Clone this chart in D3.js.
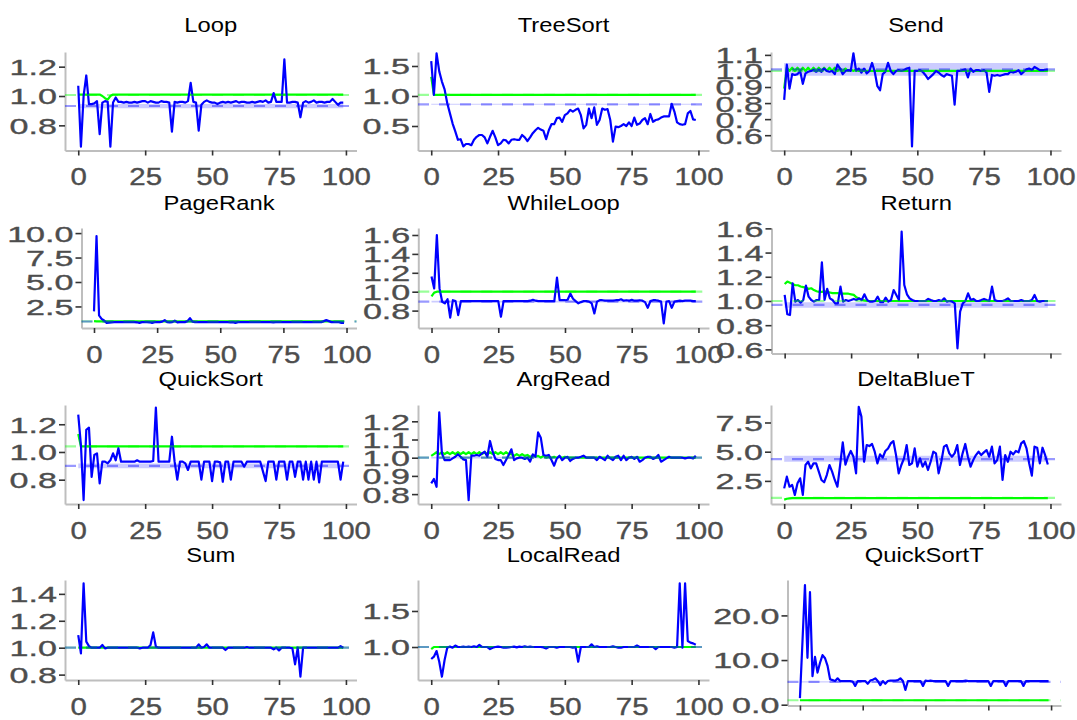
<!DOCTYPE html>
<html><head><meta charset="utf-8">
<script src="https://cdn.jsdelivr.net/npm/d3@7"></script>
<style>html,body{margin:0;padding:0;background:#fff}svg{display:block}</style>
</head><body><svg id="chart" width="1077" height="720"></svg>
<script>
const panelNames = ["Loop","TreeSort","Send","PageRank","WhileLoop","Return","QuickSort","ArgRead","DeltaBlueT","Sum","LocalRead","QuickSortT"];
const xTickValues = [0,25,50,75,100];
const xTickLabels = ["0","25","50","75","100"];
const yTickValues = [[1.2,1.0,0.8],[1.5,1.0,0.5],[1.1,1.0,0.9,0.8,0.7,0.6],[10,7.5,5,2.5],[1.6,1.4,1.2,1.0,0.8],[1.6,1.4,1.2,1.0,0.8,0.6],[1.2,1.0,0.8],[1.2,1.1,1.0,0.9,0.8],[7.5,5,2.5],[1.4,1.2,1.0,0.8],[1.5,1.0],[20,10,0]];
const yTickLabels = [["1.2","1.0","0.8"],["1.5","1.0","0.5"],["1.1","1.0","0.9","0.8","0.7","0.6"],["10.0","7.5","5.0","2.5"],["1.6","1.4","1.2","1.0","0.8"],["1.6","1.4","1.2","1.0","0.8","0.6"],["1.2","1.0","0.8"],["1.2","1.1","1.0","0.9","0.8"],["7.5","5.0","2.5"],["1.4","1.2","1.0","0.8"],["1.5","1.0"],["20.0","10.0","0.0"]];
const yDomains = [[0.6285,1.300],[0.0917,1.733],[0.5047,1.118],[0.297,10.52],[0.616,1.674],[0.566,1.603],[0.6245,1.339],[0.7456,1.2896],[0.522,8.998],[0.76,1.503],[0.542,1.93],[-0.18,27.93]];

const testMeans = [0.932,0.861,1.01,0.96,0.894,0.967,0.90,1.0,4.37,1.0,1.0,5.1];
const testLow   = [0.916,0.852,0.97,0.94,0.885,0.945,0.882,0.995,4.14,0.995,0.995,4.95];
const testHigh  = [0.946,0.870,1.05,0.98,0.905,0.99,0.916,1.005,4.66,1.005,1.005,5.25];
const baseMeans = [1.007,1.02,1.0,0.97,1.0,1.0,1.04,1.0,1.05,1.0,1.0,1.0];

const loopTest = [
1.07,0.655,1.00,1.14,0.945,0.945,0.95,0.965,0.74,0.955,
0.965,0.96,0.655,0.955,0.99,0.96,0.96,0.955,0.96,0.955,
0.955,0.96,0.955,0.96,0.965,0.965,0.955,0.965,0.96,0.955,
0.955,0.965,0.96,0.96,0.955,0.757,0.96,0.955,0.96,0.96,
0.955,0.965,1.09,0.96,0.955,0.764,0.94,0.96,0.97,0.96,
0.955,0.955,0.945,0.955,0.96,0.955,0.96,0.955,0.96,0.965,
0.955,0.96,0.96,0.955,0.955,0.96,0.955,0.96,0.965,0.96,
0.97,0.955,0.96,1.02,0.96,0.96,0.96,1.25,0.955,0.955,
0.96,0.96,0.955,0.855,0.955,0.965,0.955,0.96,0.97,0.955,
0.96,0.96,0.955,0.96,0.96,0.98,0.96,0.94,0.955,0.955];
const loopBase = [
1.01,1.01,1.01,1.01,1.01,1.01,1.01,1.01,1.01,1.00,
0.985,0.975,1.00,1.01,1.01,1.01,1.01,1.01,1.01,1.01,
1.01,1.01,1.01,1.01,1.01,1.01,1.01,1.01,1.01,1.01,
1.01,1.01,1.01,1.01,1.01,1.01,1.01,1.01,1.01,1.01,
1.01,1.01,1.01,1.01,1.01,1.01,1.01,1.01,1.01,1.01,
1.01,1.01,1.01,1.01,1.01,1.01,1.01,1.01,1.01,1.01,
1.01,1.01,1.01,1.01,1.01,1.01,1.01,1.01,1.01,1.01,
1.01,1.01,1.01,1.01,1.01,1.01,1.01,1.01,1.01,1.01,
1.01,1.01,1.01,1.01,1.01,1.01,1.01,1.01,1.01,1.01,
1.01,1.01,1.01,1.01,1.01,1.01,1.01,1.01,1.01,1.01];

const treeSortTest = [
1.58,1.02,1.71,1.41,1.24,1.11,0.88,0.71,0.54,0.41,
0.27,0.28,0.16,0.20,0.20,0.18,0.27,0.32,0.35,0.35,
0.31,0.21,0.32,0.42,0.31,0.18,0.21,0.27,0.26,0.21,
0.27,0.28,0.27,0.27,0.35,0.31,0.25,0.31,0.38,0.43,
0.47,0.44,0.42,0.28,0.43,0.53,0.53,0.63,0.64,0.57,
0.68,0.71,0.77,0.74,0.77,0.79,0.68,0.46,0.52,0.79,
0.63,0.81,0.52,0.60,0.79,0.77,0.78,0.60,0.24,0.49,
0.48,0.50,0.53,0.50,0.56,0.50,0.64,0.52,0.54,0.60,
0.63,0.53,0.70,0.57,0.60,0.61,0.64,0.66,0.66,0.66,
0.87,0.74,0.56,0.53,0.52,0.53,0.71,0.75,0.61,0.60];
const treeSortBase = [
1.32,1.02,1.02,1.02,1.02,1.02,1.02,1.02,1.02,1.02,
1.02,1.02,1.02,1.02,1.02,1.02,1.02,1.02,1.02,1.02,
1.02,1.02,1.02,1.02,1.02,1.02,1.02,1.02,1.02,1.02,
1.02,1.02,1.02,1.02,1.02,1.02,1.02,1.02,1.02,1.02,
1.02,1.02,1.02,1.02,1.02,1.02,1.02,1.02,1.02,1.02,
1.02,1.02,1.02,1.02,1.02,1.02,1.02,1.02,1.02,1.02,
1.02,1.02,1.02,1.02,1.02,1.02,1.02,1.02,1.02,1.02,
1.02,1.02,1.02,1.02,1.02,1.02,1.02,1.02,1.02,1.02,
1.02,1.02,1.02,1.02,1.02,1.02,1.02,1.02,1.02,1.02,
1.02,1.02,1.02,1.02,1.02,1.02,1.02,1.02,1.02,1.02];

const sendTest = [
0.82,1.04,0.89,0.98,0.975,0.98,1.0,0.92,0.985,0.995,
1.0,1.005,0.995,1.005,0.995,1.015,1.0,0.995,1.0,0.98,
1.04,1.015,0.98,1.0,1.005,1.0,1.11,1.0,1.015,0.99,
1.015,0.985,1.0,1.05,0.995,0.905,0.88,0.98,0.995,1.05,
1.0,0.98,1.0,1.005,1.0,1.005,1.015,1.02,0.53,1.0,
1.0,1.005,0.995,0.975,0.95,0.965,0.98,1.0,0.99,0.975,
0.965,0.98,0.975,0.97,0.79,1.0,1.0,1.005,1.01,0.96,
1.015,0.995,1.005,1.005,1.0,1.005,0.99,0.87,0.975,0.97,
0.975,0.97,0.975,0.98,0.98,0.995,0.99,0.995,1.005,0.98,
0.995,1.01,1.015,1.005,1.025,1.015,1.005,1.005,1.005,1.01];
const sendBase = [
0.89,1.02,1.0,1.02,1.0,1.02,1.0,1.02,1.0,1.02,
1.0,1.02,1.0,1.02,1.0,1.02,1.0,1.02,1.0,1.02,
1.0,1.015,1.0,1.015,1.0,1.01,1.0,1.01,1.0,1.005,
1.0,1.0,1.0,1.0,1.0,1.0,1.0,1.0,1.0,1.0,
1.0,1.0,1.0,1.0,1.0,1.0,1.0,1.0,1.0,1.0,
1.0,1.0,1.0,1.0,1.0,1.0,1.0,1.0,1.0,1.0,
1.0,1.0,1.0,1.0,1.0,1.0,1.0,1.0,1.0,1.0,
1.0,1.0,1.0,1.0,1.0,1.0,1.0,1.0,1.0,1.0,
1.0,1.0,1.0,1.0,1.0,1.0,1.0,1.0,1.0,1.0,
1.0,1.0,1.0,1.0,1.0,1.0,1.0,1.0,1.0,1.0];

const pageRankTest = [
2.0,9.7,1.58,1.23,1.06,0.82,0.85,0.88,0.9,0.9,
0.9,0.9,0.9,0.9,0.9,0.9,0.9,0.88,0.82,0.9,
0.9,0.9,0.88,0.82,0.9,0.9,0.9,0.95,1.1,0.9,
0.88,0.9,1.05,0.88,0.9,0.9,0.9,1.0,1.3,0.95,
0.9,0.9,0.9,0.9,0.9,0.9,0.9,0.9,0.9,0.9,
0.9,0.9,0.9,0.9,0.88,0.9,0.82,0.9,0.9,0.9,
0.9,0.9,0.9,0.9,0.9,0.9,0.9,0.9,0.9,0.9,
0.9,0.88,0.9,0.9,0.9,0.9,0.9,0.9,0.9,0.9,
0.9,0.9,0.9,0.9,0.9,0.9,0.9,0.9,0.9,0.9,
0.9,1.0,1.1,1.0,0.9,0.9,0.9,0.9,0.82,0.82];
const pageRankBase = [
1.0,0.97,0.97,0.97,0.97,0.97,0.97,0.97,0.97,0.97,
0.97,0.97,0.97,0.97,0.97,0.97,0.97,0.97,0.97,0.97,
0.97,0.97,0.97,0.97,0.97,0.97,0.97,0.97,0.97,0.97,
0.97,0.97,0.97,0.97,0.97,0.97,0.97,0.97,0.97,0.97,
0.97,0.97,0.97,0.97,0.97,0.97,0.97,0.97,0.97,0.97,
0.97,0.97,0.97,0.97,0.97,0.97,0.97,0.97,0.97,0.97,
0.97,0.97,0.97,0.97,0.97,0.97,0.97,0.97,0.97,0.97,
0.97,0.97,0.97,0.97,0.97,0.97,0.97,0.97,0.97,0.97,
0.97,0.97,0.97,0.97,0.97,0.97,0.97,0.97,0.97,0.97,
0.97,0.97,0.97,0.97,0.97,0.97,0.97,0.97,0.97,0.97];

const whileLoopTest = [
1.16,1.035,1.6,1.035,0.894,0.877,0.92,0.725,0.91,0.9,
0.753,0.9,0.9,0.9,0.9,0.9,0.9,0.9,0.9,0.9,
0.9,0.9,0.9,0.9,0.9,0.9,0.735,0.9,0.9,0.9,
0.9,0.9,0.9,0.9,0.9,0.9,0.9,0.905,0.915,0.905,
0.9,0.9,0.9,0.9,0.9,0.9,0.9,1.15,0.91,0.91,
0.91,0.915,0.98,0.925,0.9,0.877,0.89,0.9,0.9,0.895,
0.877,0.77,0.895,0.91,0.91,0.905,0.905,0.905,0.905,0.91,
0.91,0.92,0.905,0.91,0.905,0.915,0.905,0.905,0.91,0.905,
0.89,0.83,0.9,0.91,0.91,0.905,0.895,0.665,0.895,0.9,
0.83,0.895,0.9,0.905,0.9,0.905,0.905,0.905,0.9,0.9];
const whileLoopBase = [
0.95,0.99,1.0,1.0,1.0,1.0,1.0,1.0,1.0,1.0,
1.0,1.0,1.0,1.0,1.0,1.0,1.0,1.0,1.0,1.0,
1.0,1.0,1.0,1.0,1.0,1.0,1.0,1.0,1.0,1.0,
1.0,1.0,1.0,1.0,1.0,1.0,1.0,1.0,1.0,1.0,
1.0,1.0,1.0,1.0,1.0,1.0,1.0,1.0,1.0,1.0,
1.0,1.0,1.0,1.0,1.0,1.0,1.0,1.0,1.0,1.0,
1.0,1.0,1.0,1.0,1.0,1.0,1.0,1.0,1.0,1.0,
1.0,1.0,1.0,1.0,1.0,1.0,1.0,1.0,1.0,1.0,
1.0,1.0,1.0,1.0,1.0,1.0,1.0,1.0,1.0,1.0,
1.0,1.0,1.0,1.0,1.0,1.0,1.0,1.0,1.0,1.0];

const returnTest = [
1.05,0.89,0.884,1.146,0.995,1.008,0.986,1.008,1.127,1.036,
1.008,0.995,1.008,1.008,1.32,1.008,1.1,1.022,1.008,0.98,
0.98,1.118,0.995,1.008,1.0,1.008,1.017,1.008,1.022,1.008,
1.055,1.008,0.995,0.995,1.0,1.036,0.99,0.99,1.028,0.995,
1.008,1.09,1.05,1.008,1.573,1.132,1.055,1.022,1.008,1.0,
1.0,1.0,1.0,1.0,1.017,1.008,1.0,1.0,1.008,1.0,
1.022,0.995,1.0,0.995,0.98,0.609,0.912,0.98,1.0,1.063,
1.008,1.017,1.0,1.0,1.008,1.017,1.008,1.0,1.118,1.008,
1.0,1.0,1.0,1.008,1.022,1.0,1.0,1.0,1.0,1.008,
1.0,1.0,1.0,1.008,1.05,1.0,0.995,1.0,1.0,1.0];
const returnBase = [
1.14,1.16,1.15,1.14,1.13,1.13,1.12,1.115,1.11,1.10,
1.105,1.09,1.08,1.075,1.075,1.08,1.075,1.07,1.065,1.065,
1.065,1.06,1.06,1.06,1.06,1.055,1.05,1.03,1.02,1.01,
1.005,1.0,1.0,1.0,1.0,1.0,1.0,1.0,1.0,1.0,
1.0,1.0,1.0,1.0,1.0,1.0,1.0,1.0,1.0,1.0,
1.0,1.0,1.0,1.0,1.0,1.0,1.0,1.0,1.0,1.0,
1.0,1.0,1.0,1.0,1.0,1.0,1.0,1.0,1.0,1.0,
1.0,1.0,1.0,1.0,1.0,1.0,1.0,1.0,1.0,1.0,
1.0,1.0,1.0,1.0,1.0,1.0,1.0,1.0,1.0,1.0,
1.0,1.0,1.0,1.0,1.0,1.0,1.0,1.0,1.0,1.0];

const quickSortTest = [
1.27,1.05,0.653,1.16,1.176,0.82,0.978,0.99,0.774,0.93,
0.93,0.918,0.94,0.99,0.94,1.027,0.93,0.93,0.93,0.93,
0.93,0.93,0.94,0.93,0.93,0.93,0.93,0.93,0.935,1.32,
0.93,0.93,0.93,0.93,0.93,1.11,0.93,0.80,0.93,0.93,
0.918,0.87,0.93,0.93,0.93,0.93,0.80,0.93,0.93,0.93,
0.79,0.93,0.93,0.925,0.785,0.93,0.93,0.80,0.93,0.93,
0.93,0.93,0.894,0.93,0.93,0.93,0.93,0.93,0.93,0.86,
0.79,0.93,0.93,0.93,0.80,0.93,0.93,0.93,0.80,0.93,
0.93,0.82,0.93,0.93,0.80,0.93,0.80,0.93,0.80,0.93,
0.78,0.93,0.93,0.93,0.93,0.93,0.93,0.93,0.80,0.93];
const quickSortBase = [
1.13,1.04,1.04,1.04,1.04,1.04,1.04,1.04,1.04,1.04,
1.04,1.04,1.04,1.04,1.04,1.04,1.04,1.04,1.04,1.04,
1.04,1.04,1.04,1.04,1.04,1.04,1.04,1.04,1.04,1.04,
1.04,1.04,1.04,1.04,1.04,1.04,1.04,1.04,1.04,1.04,
1.04,1.04,1.04,1.04,1.04,1.04,1.04,1.04,1.04,1.04,
1.04,1.04,1.04,1.04,1.04,1.04,1.04,1.04,1.04,1.04,
1.04,1.04,1.04,1.04,1.04,1.04,1.04,1.04,1.04,1.04,
1.04,1.04,1.04,1.04,1.04,1.04,1.04,1.04,1.04,1.04,
1.04,1.04,1.04,1.04,1.04,1.04,1.04,1.04,1.04,1.04,
1.04,1.04,1.04,1.04,1.04,1.04,1.04,1.04,1.04,1.04];

const argReadTest = [
0.859,0.883,0.84,1.249,1.024,0.987,0.987,0.987,0.996,1.005,
1.018,1.005,0.991,0.987,0.767,1.011,1.011,1.015,1.011,1.024,
1.033,1.005,1.092,1.033,0.993,0.987,0.987,0.96,0.987,1.015,
1.046,0.987,0.996,1.0,1.0,0.993,1.0,0.978,1.018,1.005,
1.139,1.11,1.015,1.011,1.015,0.987,0.956,0.996,1.011,0.987,
1.0,1.005,0.982,0.993,1.0,1.0,1.005,1.011,1.0,1.0,
1.0,1.0,0.987,1.005,0.996,0.987,1.011,0.996,0.987,1.005,
1.011,0.987,1.011,0.987,1.0,1.005,0.993,1.005,0.978,0.987,
1.0,1.005,1.005,0.993,1.0,1.015,0.978,0.987,0.996,1.005,
1.0,1.0,1.0,1.0,1.0,0.996,1.0,1.0,0.996,1.011];
const argReadBase = [
1.01,1.02,1.03,1.02,1.03,1.02,1.03,1.02,1.03,1.02,
1.03,1.02,1.03,1.02,1.03,1.02,1.03,1.02,1.03,1.02,
1.03,1.02,1.03,1.02,1.03,1.02,1.03,1.02,1.03,1.02,
1.02,1.01,1.02,1.01,1.02,1.01,1.015,1.005,1.01,1.005,
1.01,1.0,1.01,1.0,1.005,1.0,1.005,1.0,1.005,1.0,
1.005,1.0,1.0,1.0,1.0,1.0,1.0,1.0,1.0,1.0,
1.0,1.0,1.0,1.0,1.0,1.0,1.0,1.0,1.0,1.0,
1.0,1.0,1.0,1.0,1.0,1.0,1.0,1.0,1.0,1.0,
1.0,1.0,1.0,1.0,1.0,1.0,1.0,1.0,1.0,1.0,
1.0,1.0,1.0,1.0,1.0,1.0,1.0,1.0,1.0,1.0];

const deltaBlueTTest = [
1.86,2.86,2.0,2.15,1.3,2.3,2.72,1.3,3.86,4.14,
3.57,4.0,4.0,3.29,2.58,2.38,3.0,3.86,3.29,2.58,
2.0,3.86,5.8,3.9,4.57,5.06,4.57,3.15,8.85,8.0,
4.14,5.57,5.48,5.66,5.0,4.0,4.77,4.49,5.06,5.28,
5.71,5.91,4.71,3.15,3.86,4.43,5.57,3.86,4.0,5.28,
3.72,4.43,3.72,4.14,3.43,4.14,5.0,4.86,3.15,4.14,
5.43,5.57,4.86,4.57,4.86,5.57,3.86,4.86,5.66,4.57,
3.72,4.29,4.71,5.0,4.71,4.94,5.14,4.57,5.43,4.0,
4.29,5.43,2.58,4.71,4.14,5.0,4.77,5.06,4.94,5.71,
5.91,5.28,4.0,2.95,5.43,5.34,4.0,5.34,4.7,3.9];
const deltaBlueTBase = [
0.9,0.97,1.0,1.03,1.03,1.03,1.03,1.03,1.03,1.03,
1.03,1.03,1.03,1.03,1.03,1.03,1.03,1.03,1.03,1.03,
1.03,1.03,1.03,1.03,1.03,1.03,1.03,1.03,1.03,1.03,
1.03,1.03,1.03,1.03,1.03,1.03,1.03,1.03,1.03,1.03,
1.03,1.03,1.03,1.03,1.03,1.03,1.03,1.03,1.03,1.03,
1.03,1.03,1.03,1.03,1.03,1.03,1.03,1.03,1.03,1.03,
1.03,1.03,1.03,1.03,1.03,1.03,1.03,1.03,1.03,1.03,
1.03,1.03,1.03,1.03,1.03,1.03,1.03,1.03,1.03,1.03,
1.03,1.03,1.03,1.03,1.03,1.03,1.03,1.03,1.03,1.03,
1.03,1.03,1.03,1.03,1.03,1.03,1.03,1.03,1.03,1.03];

const sumTest = [
1.094,0.958,1.478,1.045,1.012,1.0,1.0,1.0,1.0,1.02,
0.995,1.0,1.0,1.0,1.0,1.0,1.0,1.0,1.0,1.0,
1.0,1.0,1.0,0.995,1.0,1.0,1.0,1.02,1.114,1.008,
1.0,1.0,1.0,1.0,1.0,1.0,1.0,1.0,1.0,1.0,
1.0,1.0,1.0,1.0,1.0,1.025,1.0,1.005,1.025,1.0,
1.0,1.0,1.0,1.0,1.0,0.983,1.0,1.0,1.0,1.0,
1.0,1.0,1.0,1.005,1.0,1.0,1.0,1.0,1.0,1.0,
1.0,1.0,1.0,0.988,1.0,0.98,1.0,1.0,1.0,1.0,
0.995,0.876,1.0,0.784,1.0,1.0,1.0,1.0,1.0,1.0,
1.0,1.0,1.0,1.0,1.0,1.0,1.0,1.0,1.012,1.0];
const sumBase = [
1.0,1.0,1.0,1.0,1.0,1.0,1.0,1.0,1.0,1.0,
1.0,1.0,1.0,1.0,1.0,1.0,1.0,1.0,1.0,1.0,
1.0,1.0,1.0,1.0,1.0,1.0,1.0,1.0,1.0,1.0,
1.0,1.0,1.0,1.0,1.0,1.0,1.0,1.0,1.0,1.0,
1.0,1.0,1.0,1.0,1.0,1.0,1.0,1.0,1.0,1.0,
1.0,1.0,1.0,1.0,1.0,1.0,1.0,1.0,1.0,1.0,
1.0,1.0,1.0,1.0,1.0,1.0,1.0,1.0,1.0,1.0,
1.0,1.0,1.0,1.0,1.0,1.0,1.0,1.0,1.0,1.0,
1.0,1.0,1.0,1.0,1.0,1.0,1.0,1.0,1.0,1.0,
1.0,1.0,1.0,1.0,1.0,1.0,1.0,1.0,1.0,1.0];

const localReadTest = [
0.833,0.866,0.944,0.796,0.588,0.82,0.99,1.005,0.99,1.02,
1.0,1.0,1.005,1.0,1.005,1.0,1.01,1.0,1.028,1.0,
1.0,1.0,0.972,0.99,1.0,1.005,1.0,0.99,0.99,0.995,
1.0,1.005,0.995,1.005,1.0,1.01,1.0,1.005,1.0,1.0,
1.0,1.0,0.995,0.98,1.0,1.0,1.0,0.99,1.0,1.0,
1.0,1.0,1.0,0.99,1.0,0.796,1.0,1.0,1.0,1.0,
1.037,1.0,1.01,1.0,1.0,1.0,1.0,1.0,1.01,1.0,
0.99,0.99,1.0,1.0,1.0,1.0,1.0,1.02,1.0,1.0,
1.0,1.0,1.0,1.0,0.97,1.0,1.0,1.0,1.0,1.0,
1.0,0.99,1.0,1.884,0.99,1.884,1.083,1.06,1.05,1.03];
const localReadBase = [
0.97,1.0,1.0,1.0,1.0,1.0,1.0,1.0,1.0,1.0,
1.0,1.0,1.0,1.0,1.0,1.0,1.0,1.0,1.0,1.0,
1.0,1.0,1.0,1.0,1.0,1.0,1.0,1.0,1.0,1.0,
1.0,1.0,1.0,1.0,1.0,1.0,1.0,1.0,1.0,1.0,
1.0,1.0,1.0,1.0,1.0,1.0,1.0,1.0,1.0,1.0,
1.0,1.0,1.0,1.0,1.0,1.0,1.0,1.0,1.0,1.0,
1.0,1.0,1.0,1.0,1.0,1.0,1.0,1.0,1.0,1.0,
1.0,1.0,1.0,1.0,1.0,1.0,1.0,1.0,1.0,1.0,
1.0,1.0,1.0,1.0,1.0,1.0,1.0,1.0,1.0,1.0,
1.0,1.0,1.0,1.0,1.0,1.0,1.0,1.0,1.0,1.0];

const quickSortTTest = [
1.48,14.0,26.8,10.5,25.2,6.4,10.7,7.2,9.4,11.1,
10.4,8.7,5.7,5.5,5.3,5.9,5.3,5.3,5.3,5.3,
5.3,5.2,4.2,5.3,5.3,5.3,5.3,4.7,5.4,5.6,
5.9,5.3,4.4,5.3,4.7,5.3,5.4,5.4,5.4,5.5,
5.9,5.3,3.3,5.3,5.3,5.3,5.3,5.3,5.3,4.2,
5.4,5.3,5.4,5.3,5.3,5.3,5.3,5.3,5.3,4.2,
5.3,5.3,5.3,5.3,5.3,5.3,5.4,5.3,5.3,5.3,
5.3,5.3,5.3,5.3,5.3,5.3,4.2,5.3,5.3,5.3,
5.3,5.3,4.2,5.3,5.3,5.3,5.3,5.3,5.3,4.2,
5.3,5.3,5.3,5.3,5.3,5.3,5.3,5.3,5.3,5.3];
const quickSortTBase = [
1.0,1.0,1.0,1.0,1.0,1.0,1.0,1.0,1.0,1.0,
1.0,1.0,1.0,1.0,1.0,1.0,1.0,1.0,1.0,1.0,
1.0,1.0,1.0,1.0,1.0,1.0,1.0,1.0,1.0,1.0,
1.0,1.0,1.0,1.0,1.0,1.0,1.0,1.0,1.0,1.0,
1.0,1.0,1.0,1.0,1.0,1.0,1.0,1.0,1.0,1.0,
1.0,1.0,1.0,1.0,1.0,1.0,1.0,1.0,1.0,1.0,
1.0,1.0,1.0,1.0,1.0,1.0,1.0,1.0,1.0,1.0,
1.0,1.0,1.0,1.0,1.0,1.0,1.0,1.0,1.0,1.0,
1.0,1.0,1.0,1.0,1.0,1.0,1.0,1.0,1.0,1.0,
1.0,1.0,1.0,1.0,1.0,1.0,1.0,1.0,1.0,1.0];

const testSeries = [loopTest,treeSortTest,sendTest,pageRankTest,whileLoopTest,returnTest,quickSortTest,argReadTest,deltaBlueTTest,sumTest,localReadTest,quickSortTTest];
const baseSeries = [loopBase,treeSortBase,sendBase,pageRankBase,whileLoopBase,returnBase,quickSortBase,argReadBase,deltaBlueTBase,sumBase,localReadBase,quickSortTBase];

// ---- layout ----
const rowTop = [52,228,405,580];
const rowBottom = [150.5,328,504,680];
const titleBase = [32,210,385.5,561.5];
const colRight = [356.5,709,1061];
const panelLeft = [65,418,771,81.5,418.3,771.5,65,418,771,65,418,787.5];
const hideXLabels = [false,false,false,false,false,true,false,false,false,false,false,true];
const FONT = '"Liberation Sans", Arial, Helvetica, sans-serif';
const TITLE_SX = 1.22, YS = 1.55, XS = 1.28;

const svg = d3.select('#chart');

panelNames.forEach((name, i) => {
  const row = Math.floor(i / 3), col = i % 3;
  const top = rowTop[row];
  const bottom = rowBottom[row] + (hideXLabels[i] ? 25.5 : 0);
  const left = panelLeft[i], right = colRight[col];
  const x = d3.scaleLinear().domain([-4.95, 103.95]).range([left, right]);
  const y = d3.scaleLinear().domain(yDomains[i]).range([bottom, top]);
  const g = svg.append('g').attr('class', 'panel');

  g.append('text')
    .attr('transform', `translate(${(left + right) / 2},${titleBase[row]}) scale(${TITLE_SX},1)`)
    .attr('text-anchor', 'middle').attr('font-family', FONT).attr('font-size', 19.5)
    .attr('fill', '#000').text(name);

  // axes
  const ya = g.append('g').attr('transform', `translate(${left},0)`)
    .call(d3.axisLeft(y).tickValues(yTickValues[i]).tickFormat((d, j) => yTickLabels[i][j]).tickSize(6).tickSizeOuter(0));
  ya.attr('font-size', null).attr('font-family', null);
  ya.select('.domain').attr('stroke', '#bebebe').attr('stroke-width', 2);
  ya.selectAll('.tick line').attr('stroke', '#333').attr('stroke-width', 1.6);
  ya.selectAll('.tick text').attr('x', -8 / YS).attr('dy', '0.36em')
    .attr('transform', `scale(${YS},1)`).attr('fill', '#4d4d4d')
    .attr('stroke', '#4d4d4d').attr('stroke-width', 0.35)
    .attr('font-size', 22).attr('font-family', FONT);

  const xa = g.append('g').attr('transform', `translate(0,${bottom})`)
    .call(d3.axisBottom(x).tickValues(xTickValues).tickFormat((d, j) => hideXLabels[i] ? '' : xTickLabels[j]).tickSize(5).tickSizeOuter(0));
  xa.attr('font-size', null).attr('font-family', null);
  xa.select('.domain').attr('stroke', '#bebebe').attr('stroke-width', 2);
  xa.selectAll('.tick line').attr('stroke', '#333').attr('stroke-width', 1.6);
  xa.selectAll('.tick text').attr('y', 35).attr('dy', 0)
    .attr('transform', `scale(${XS},1)`).attr('fill', '#4d4d4d')
    .attr('stroke', '#4d4d4d').attr('stroke-width', 0.35)
    .attr('font-size', 23).attr('font-family', FONT);

  // band around the test mean
  const band = d3.area().x(d => x(d)).y0(y(testLow[i])).y1(y(testHigh[i]));
  g.append('path').datum([0, 99]).attr('d', band).attr('fill', 'rgba(0,0,255,0.2)');

  const line = d3.line().x((d, j) => x(j)).y(d => y(d));
  g.append('path').datum(baseSeries[i]).attr('d', line)
    .attr('fill', 'none').attr('stroke', '#00ff00').attr('stroke-width', 2.2).attr('stroke-linejoin', 'round');
  g.append('path').datum(testSeries[i]).attr('d', line)
    .attr('fill', 'none').attr('stroke', '#0000ff').attr('stroke-width', 2.2).attr('stroke-linejoin', 'round');

  // dashed reference lines
  const [x0, x1] = x.range();
  g.append('line').attr('x1', x0).attr('x2', x1).attr('y1', y(baseMeans[i])).attr('y2', y(baseMeans[i]))
    .attr('stroke', 'rgba(0,255,0,0.4)').attr('stroke-width', 2.2).attr('stroke-dasharray', '11,10');
  g.append('line').attr('x1', x0).attr('x2', x1).attr('y1', y(testMeans[i])).attr('y2', y(testMeans[i]))
    .attr('stroke', 'rgba(0,0,255,0.4)').attr('stroke-width', 2.2).attr('stroke-dasharray', '11,10');
});
</script></body></html>
